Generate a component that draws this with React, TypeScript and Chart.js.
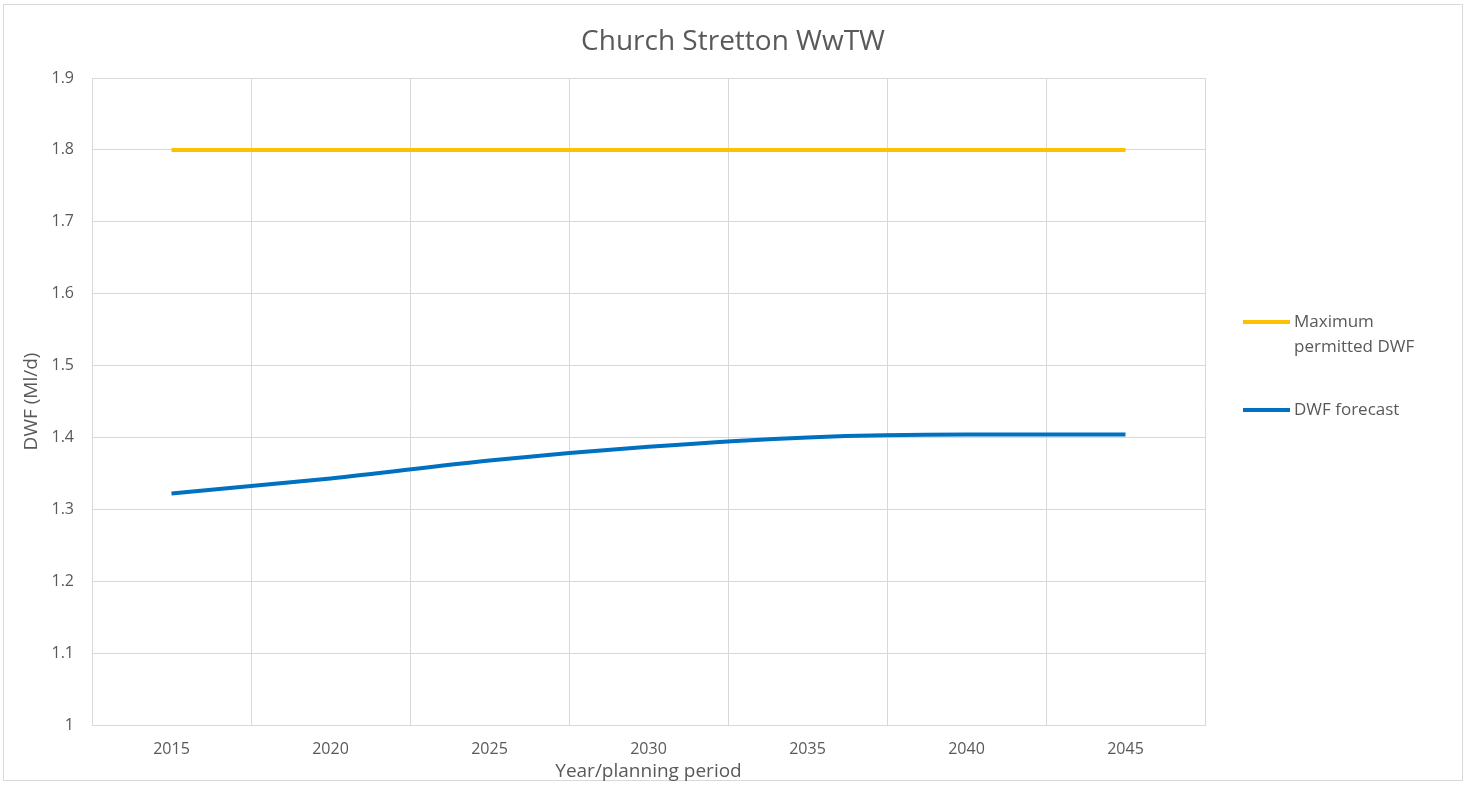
import React, { useEffect, useRef } from "react";
import { Chart, registerables } from "chart.js";

Chart.register(...registerables);

const chartTitle = "Church Stretton WwTW";
const xAxisTitle = "Year/planning period";
const yAxisTitle = "DWF (Ml/d)";
const years = ["2015", "2020", "2025", "2030", "2035", "2040", "2045"];
const maxPermittedDWF = [1.8, 1.8, 1.8, 1.8, 1.8, 1.8, 1.8];
const dwfForecast = [1.322, 1.343, 1.368, 1.387, 1.4, 1.404, 1.404];
const seriesNames = [["Maximum", "permitted DWF"], ["DWF forecast"]];
const seriesColors = ["#FFC000", "#0070C0"];

const FONT = "'Open Sans', 'Liberation Sans', sans-serif";
const TEXT = "#595959";
const GRID = "#d9d9d9";

const decorPlugin = {
  id: "decor",
  beforeDraw(chart: any) {
    const ctx = chart.ctx;
    ctx.save();
    ctx.fillStyle = "#ffffff";
    ctx.fillRect(0, 0, chart.width, chart.height);
    ctx.strokeStyle = "#d9d9d9";
    ctx.lineWidth = 1;
    ctx.strokeRect(3.5, 4.5, chart.width - 7, chart.height - 9);
    ctx.restore();
  },
  afterDraw(chart: any) {
    const ctx = chart.ctx;
    ctx.save();
    // title centred on the whole chart
    ctx.font = `28px ${FONT}`;
    ctx.fillStyle = TEXT;
    ctx.textAlign = "center";
    ctx.textBaseline = "middle";
    ctx.fillText(chartTitle, chart.width / 2, 42);
    // legend
    const x0 = 1243;
    const x1 = x0 + 47;
    const ys = [322, 410];
    ctx.font = `17px ${FONT}`;
    ctx.textBaseline = "middle";
    ctx.textAlign = "left";
    chart.data.datasets.forEach((ds: any, i: number) => {
      const y = ys[i];
      ctx.strokeStyle = ds.borderColor;
      ctx.lineWidth = 4;
      ctx.beginPath();
      ctx.moveTo(x0, y);
      ctx.lineTo(x1, y);
      ctx.stroke();
      ctx.fillStyle = TEXT;
      const lines: string[] = seriesNames[i];
      lines.forEach((t, j) => ctx.fillText(t, x1 + 4, y + j * 25));
    });
    ctx.restore();
  },
};

export default function App() {
  const ref = useRef<HTMLCanvasElement>(null);
  useEffect(() => {
    document.body.style.margin = "0";
    const chart = new Chart(ref.current!, {
      type: "line",
      data: {
        labels: years,
        datasets: [
          {
            label: "Maximum permitted DWF",
            data: maxPermittedDWF,
            borderColor: seriesColors[0],
            backgroundColor: seriesColors[0],
            borderWidth: 4,
            pointRadius: 0,
            fill: false,
          },
          {
            label: "DWF forecast",
            data: dwfForecast,
            borderColor: seriesColors[1],
            backgroundColor: seriesColors[1],
            borderWidth: 4,
            pointRadius: 0,
            cubicInterpolationMode: "monotone",
            fill: false,
          },
        ],
      },
      options: {
        responsive: false,
        animation: false,
        layout: { padding: { top: 78, right: 261, bottom: 0, left: 0 } },
        plugins: {
          legend: { display: false },
          tooltip: { enabled: false },
          title: { display: false },
        },
        scales: {
          x: {
            offset: true,
            grid: { offset: true, color: GRID, drawTicks: false },
            border: { color: GRID },
            ticks: { color: TEXT, font: { family: FONT, size: 16 }, padding: 15, maxRotation: 0 },
            title: {
              display: true,
              text: xAxisTitle,
              color: TEXT,
              font: { family: FONT, size: 19 },
              padding: { top: 0, bottom: 2 },
            },
            afterFit(scale: any) {
              scale.height = 60;
            },
          },
          y: {
            min: 1,
            max: 1.9,
            grid: { color: GRID, drawTicks: false },
            border: { color: GRID },
            ticks: {
              stepSize: 0.1,
              color: TEXT,
              font: { family: FONT, size: 16 },
              padding: 18,
              callback: (v: any) => String(Number(Number(v).toFixed(1))),
            },
            title: {
              display: true,
              text: yAxisTitle,
              color: TEXT,
              font: { family: FONT, size: 19 },
              padding: { top: 20, bottom: 0 },
            },
            afterFit(scale: any) {
              scale.width = 92;
            },
          },
        },
      } as any,
      plugins: [decorPlugin],
    });
    return () => chart.destroy();
  }, []);
  return (
    <div style={{ width: 1466, height: 785 }}>
      <canvas ref={ref} width={1466} height={785} style={{ display: "block" }} />
    </div>
  );
}
